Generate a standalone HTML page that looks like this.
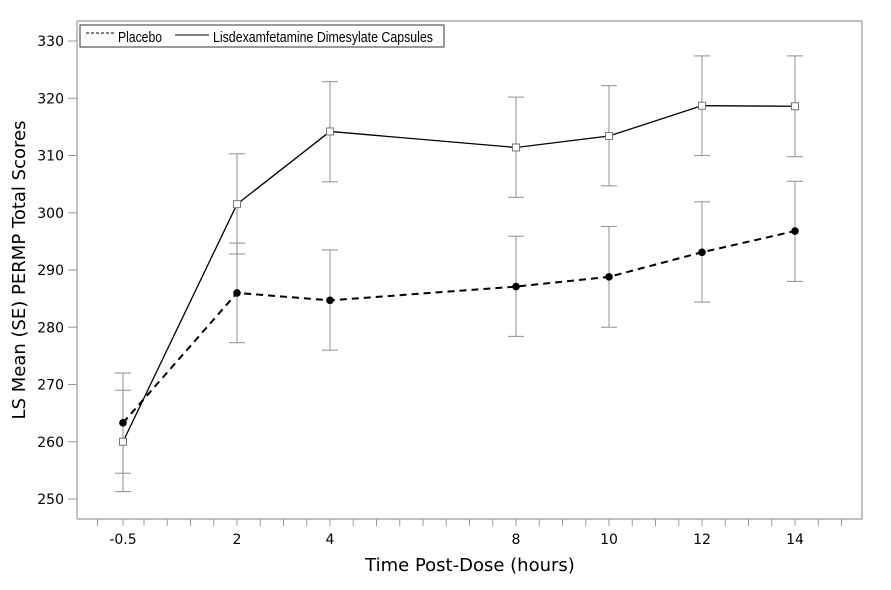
<!DOCTYPE html>
<html><head><meta charset="utf-8"><style>
body{margin:0;background:#fff;}
svg{display:block;font-family:"DejaVu Sans","Liberation Sans",sans-serif;}
</style></head><body>
<svg id="s" width="891" height="590" viewBox="0 0 891 590" xmlns="http://www.w3.org/2000/svg">
<rect width="891" height="590" fill="#fff"/>
<g stroke="#999" stroke-width="1.2" fill="none">
<line x1="77" y1="21" x2="77" y2="519"/>
<line x1="77" y1="519" x2="862" y2="519"/>
<line x1="862" y1="21" x2="862" y2="519"/>
<line x1="77" y1="21" x2="862" y2="21"/>
</g>
<g id="ax"></g>
<g id="eb" stroke="#999" stroke-width="1.1" fill="none"></g>
<g id="ln"></g>
<rect x="80" y="25" width="364" height="22" fill="#fff" stroke="#333" stroke-width="1"/>
<line x1="86" y1="33" x2="114" y2="33" stroke="#000" stroke-dasharray="3,2"/>
<text x="118" y="42" font-family="Liberation Sans,sans-serif" font-size="15" textLength="44" lengthAdjust="spacingAndGlyphs">Placebo</text>
<line x1="175" y1="35" x2="209" y2="35" stroke="#000"/>
<text x="213" y="42" font-family="Liberation Sans,sans-serif" font-size="15" textLength="220" lengthAdjust="spacingAndGlyphs">Lisdexamfetamine Dimesylate Capsules</text>
<text x="470" y="571" font-size="18" text-anchor="middle">Time Post-Dose (hours)</text>
<text transform="translate(25,270) rotate(-90)" font-size="18" text-anchor="middle">LS Mean (SE) PERMP Total Scores</text>
</svg>
<script>
const X=t=>t<0?123:237+(t-2)*46.5, XT=t=>237+(t-2)*46.5, Y=v=>41+(330-v)*5.725;
let ax='';
for(let v=250;v<=330;v+=10){const y=Y(v);ax+=`<line x1="68" y1="${y}" x2="77" y2="${y}" stroke="#999"/><text x="64" y="${y+5}" font-size="14" text-anchor="end">${v}</text>`;}
for(let t=-1;t<=15.01;t+=0.5){const x=Math.abs(t+0.5)<0.01?123:XT(t);ax+=`<line x1="${x}" y1="519" x2="${x}" y2="526" stroke="#999"/>`;}
[[-0.5,'-0.5'],[2,'2'],[4,'4'],[8,'8'],[10,'10'],[12,'12'],[14,'14']].forEach(([t,l])=>{ax+=`<text x="${X(t)}" y="544" font-size="14" text-anchor="middle">${l}</text>`;});
document.getElementById('ax').innerHTML=ax;
const T=[-0.5,2,4,8,10,12,14];
const L=[[260,251.3,269],[301.5,292.8,310.3],[314.2,305.4,322.9],[311.4,302.7,320.2],[313.4,304.7,322.2],[318.7,310,327.4],[318.6,309.8,327.4]];
const P=[[263.3,254.5,272],[286,277.3,294.7],[284.7,276,293.5],[287.1,278.4,295.9],[288.8,280,297.6],[293.1,284.4,301.9],[296.8,288,305.5]];
let eb='';
[L,P].forEach(S=>S.forEach((d,i)=>{const x=X(T[i]);eb+=`<line x1="${x}" y1="${Y(d[1])}" x2="${x}" y2="${Y(d[2])}"/><line x1="${x-8}" y1="${Y(d[1])}" x2="${x+8}" y2="${Y(d[1])}"/><line x1="${x-8}" y1="${Y(d[2])}" x2="${x+8}" y2="${Y(d[2])}"/>`;}));
document.getElementById('eb').innerHTML=eb;
let ln='';
ln+=`<polyline fill="none" stroke="#000" stroke-width="1.3" points="${T.map((t,i)=>X(t)+','+Y(L[i][0])).join(' ')}"/>`;
ln+=`<polyline fill="none" stroke="#000" stroke-width="2" stroke-dasharray="7,5" points="${T.map((t,i)=>X(t)+','+Y(P[i][0])).join(' ')}"/>`;
T.forEach((t,i)=>{ln+=`<rect x="${X(t)-3.5}" y="${Y(L[i][0])-3.5}" width="7" height="7" fill="#fff" stroke="#777"/>`;ln+=`<circle cx="${X(t)}" cy="${Y(P[i][0])}" r="3.8" fill="#000"/>`;});
document.getElementById('ln').innerHTML=ln;
</script>
</body></html>
